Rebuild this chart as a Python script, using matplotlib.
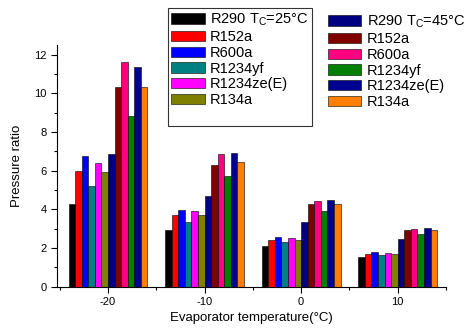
import matplotlib.pyplot as plt
from matplotlib.patches import Patch
from matplotlib.ticker import MultipleLocator
import numpy as np

plt.rcParams['font.family'] = ['Liberation Sans', 'DejaVu Sans']
plt.rcParams['mathtext.fontset'] = 'custom'
plt.rcParams['mathtext.rm'] = 'Liberation Sans'
plt.rcParams['axes.unicode_minus'] = False

temps = [-20, -10, 0, 10]

# Tc = 25 C
r290_25 = [4.27, 2.91, 2.08, 1.55]
r152a_25 = [5.96, 3.69, 2.43, 1.69]
r600a_25 = [6.74, 3.98, 2.57, 1.77]
r1234yf_25 = [5.23, 3.34, 2.31, 1.64]
r1234ze_25 = [6.39, 3.91, 2.52, 1.74]
r134a_25 = [5.92, 3.69, 2.43, 1.69]

# Tc = 45 C
r290_45 = [6.86, 4.70, 3.36, 2.48]
r152a_45 = [10.35, 6.30, 4.25, 2.95]
r600a_45 = [11.64, 6.87, 4.41, 3.00]
r1234yf_45 = [8.84, 5.72, 3.89, 2.74]
r1234ze_45 = [11.37, 6.89, 4.46, 3.05]
r134a_45 = [10.35, 6.44, 4.25, 2.95]

labels_25 = [r'R290 T$_\mathregular{C}$=25°C', 'R152a', 'R600a', 'R1234yf', 'R1234ze(E)', 'R134a']
labels_45 = [r'R290 T$_\mathregular{C}$=45°C', 'R152a', 'R600a', 'R1234yf', 'R1234ze(E)', 'R134a']
colors_25 = ['#000000', '#FF0000', '#0000FF', '#008080', '#FF00FF', '#808000']
colors_45 = ['#000080', '#800000', '#FF0080', '#008000', '#000090', '#FF8000']

series = [r290_25, r152a_25, r600a_25, r1234yf_25, r1234ze_25, r134a_25,
          r290_45, r152a_45, r600a_45, r1234yf_45, r1234ze_45, r134a_45]
colors = colors_25 + colors_45

fig = plt.figure(figsize=(4.7, 3.32), dpi=100)
ax = fig.add_axes([0.121, 0.137, 0.828, 0.727])

w = 0.68
x = np.array(temps, dtype=float)
for i, (vals, c) in enumerate(zip(series, colors)):
    ax.bar(x + (i - 5.5) * w, vals, width=w, color=c, edgecolor='black', linewidth=0.4)

ax.set_xlim(-25.3, 15.0)
ax.set_ylim(0, 12.5)
ax.set_xticks(temps)
ax.set_yticks(range(0, 13, 2))
ax.xaxis.set_minor_locator(MultipleLocator(5))
ax.yaxis.set_minor_locator(MultipleLocator(1))
ax.tick_params(which='both', direction='out', labelsize=8, width=0.8)
ax.tick_params(which='major', length=4)
ax.tick_params(which='minor', length=2)
for s in ['top', 'right']:
    ax.spines[s].set_visible(False)

ax.set_xlabel('Evaporator temperature(°C)', fontsize=9.5)
ax.set_ylabel('Pressure ratio', fontsize=9.5, labelpad=8)

h25 = [Patch(facecolor=c, edgecolor='black', linewidth=0.4) for c in colors_25]
h45 = [Patch(facecolor=c, edgecolor='black', linewidth=0.4) for c in colors_45]
# blank row leaves some room at the bottom of the framed box
h25.append(Patch(facecolor='none', edgecolor='none'))

leg_kw = dict(fontsize=10.5, handlelength=2.3, handleheight=0.7, labelspacing=0.12,
              handletextpad=0.35, borderpad=0.25, borderaxespad=0)
leg1 = fig.legend(h25, labels_25 + [''], loc='upper left', bbox_to_anchor=(0.357, 0.976),
                  frameon=True, fancybox=False, edgecolor='black', **leg_kw)
leg1.get_frame().set_linewidth(0.8)
fig.legend(h45, labels_45, loc='upper left', bbox_to_anchor=(0.69, 0.97),
           frameon=False, **leg_kw)

fig.savefig('out.png', dpi=100)
